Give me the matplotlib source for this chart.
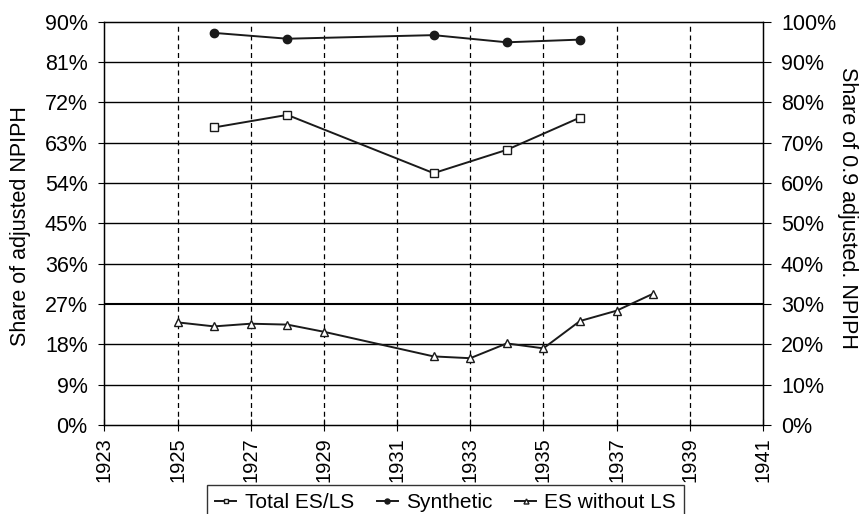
import matplotlib
matplotlib.use('Agg')

import matplotlib.pyplot as plt
import matplotlib.ticker as mticker

plt.rcParams['font.family'] = ['Liberation Sans', 'DejaVu Sans']

# values (left axis units, percent)
total_years = [1926, 1928, 1932, 1934, 1936]
total_vals = [66.4, 69.2, 56.2, 61.4, 68.6]

synth_years = [1926, 1928, 1932, 1934, 1936]
synth_vals = [87.5, 86.2, 87.0, 85.4, 86.0]

esw_years = [1925, 1926, 1927, 1928, 1929, 1932, 1933, 1934, 1935, 1936, 1937, 1938]
esw_vals = [22.9, 22.0, 22.6, 22.4, 20.8, 15.3, 14.9, 18.2, 17.1, 23.2, 25.5, 29.3]

x_ticks = list(range(1923, 1942, 2))
left_ticks = list(range(0, 91, 9))
right_ticks = [i / 10 for i in range(11)]

fig = plt.figure(figsize=(8.63, 5.14), dpi=100)
ax = fig.add_axes([0.1209, 0.1732, 0.7631, 0.7846])

# grid lines
for t in left_ticks[1:-1]:
    ax.axhline(t, color='black', lw=1.5 if t == 27 else 1.0, zorder=1)
for t in x_ticks[1:-1]:
    ax.axvline(t, color='black', lw=0.9, linestyle=(0, (4, 3)), zorder=1)

ax.plot(total_years, total_vals, color='#1a1a1a', lw=1.4, marker='s', ms=6,
        mfc='white', mec='#1a1a1a', mew=1.0, label='Total ES/LS', zorder=3)
ax.plot(synth_years, synth_vals, color='#1a1a1a', lw=1.4, marker='o', ms=6,
        mfc='#1a1a1a', mec='#1a1a1a', label='Synthetic', zorder=3)
ax.plot(esw_years, esw_vals, color='#1a1a1a', lw=1.4, marker='^', ms=6,
        mfc='white', mec='#1a1a1a', mew=1.0, label='ES without LS', zorder=3)

ax.set_xlim(1923, 1941)
ax.set_ylim(0, 90)
ax.set_xticks(x_ticks)
ax.set_xticklabels([str(x) for x in x_ticks], rotation=90, fontsize=14.5)
ax.set_yticks(left_ticks)
ax.yaxis.set_major_formatter(mticker.FuncFormatter(lambda v, p: f"{int(v)}%"))
ax.tick_params(axis='y', labelsize=15.5, direction='out', length=4, pad=8)
ax.tick_params(axis='x', direction='inout', length=8, pad=5)
ax.set_ylabel('Share of adjusted NPIPH', fontsize=15.5, va='center')
ax.yaxis.set_label_coords(-0.127, 0.493)
for s in ax.spines.values():
    s.set_linewidth(1.0)

ax2 = ax.twinx()
ax2.set_ylim(0, 1.0)
ax2.set_yticks(right_ticks)
ax2.yaxis.set_major_formatter(mticker.PercentFormatter(1.0, decimals=0))
ax2.tick_params(axis='y', labelsize=15.5, direction='out', length=6, pad=7)
ax2.set_ylabel('Share of 0.9 adjusted. NPIPH', fontsize=15.5, rotation=270, va='center')
ax2.yaxis.set_label_coords(1.129, 0.538)

leg = ax.legend(loc='upper left', bbox_to_anchor=(207 / 863, 1 - 485 / 514),
                bbox_transform=fig.transFigure, ncol=3, fontsize=15,
                frameon=True, fancybox=False, edgecolor='black',
                handlelength=1.0, handletextpad=0.4, columnspacing=1.1,
                borderaxespad=0, borderpad=0.4, markerscale=0.6)
leg.get_frame().set_linewidth(1.0)

plt.savefig('out.png', dpi=100)
plt.close()
